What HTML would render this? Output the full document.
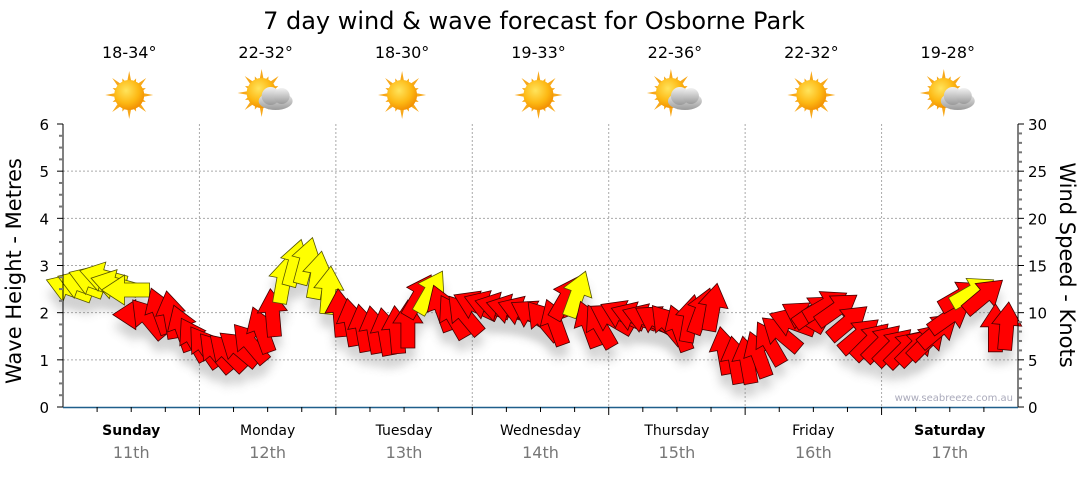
<!DOCTYPE html>
<html><head><meta charset="utf-8">
<style>
html,body{margin:0;padding:0;background:#fff;}
body{width:1080px;height:475px;overflow:hidden;font-family:"DejaVu Sans","Liberation Sans",sans-serif;}
</style></head>
<body>
<svg id="chart" width="1080" height="475" viewBox="0 0 1080 475" xmlns="http://www.w3.org/2000/svg" font-family="DejaVu Sans, Liberation Sans, sans-serif">
<defs>
<filter id="sh" x="-50%" y="-50%" width="200%" height="200%"><feGaussianBlur stdDeviation="5"/></filter>
<radialGradient id="sunG" cx="0.4" cy="0.35" r="0.7"><stop offset="0" stop-color="#ffe45c"/><stop offset="0.6" stop-color="#fdb813"/><stop offset="1" stop-color="#f08a00"/></radialGradient>
<linearGradient id="cloudG" x1="0" y1="0" x2="0" y2="1"><stop offset="0" stop-color="#f2f2f2"/><stop offset="1" stop-color="#9a9a9a"/></linearGradient>
</defs>
<text x="534" y="29" font-size="24" text-anchor="middle" fill="#000">7 day wind &amp; wave forecast for Osborne Park</text>
<g id="grid"></g>
<g id="shadows" opacity="0.3"></g>
<g id="arrows"></g>
<g id="axes"></g>
<g id="days"></g>
<text transform="translate(21,271) rotate(-90)" font-size="21" text-anchor="middle">Wave Height - Metres</text>
<text transform="translate(1060,265) rotate(90)" font-size="21" text-anchor="middle">Wind Speed - Knots</text>
<text x="1013" y="401" font-size="10" fill="#aab" text-anchor="end">www.seabreeze.com.au</text>
</svg>
<script>
const dayNames=["Sunday","Monday","Tuesday","Wednesday","Thursday","Friday","Saturday"];
const dayDates=["11th","12th","13th","14th","15th","16th","17th"];
const temps=["18-34°","22-32°","18-30°","19-33°","22-36°","22-32°","19-28°"];
const cloudy=[false,true,false,false,true,false,true];
const waveTicks=[0,1,2,3,4,5,6];
const windTicks=[0,5,10,15,20,25,30];
const windSpeed=[
12.6,13.0,13.4,13.8,13.0,12.4,9.8,9.4,10.2,9.8,8.4,7.2,
6.4,5.8,5.8,6.2,6.8,8.2,10.0,13.5,15.3,15.5,14.0,12.4,
10.0,9.0,8.4,8.2,8.0,8.2,8.8,11.8,12.2,10.5,9.6,9.8,
10.8,10.8,10.6,10.4,10.2,9.8,9.2,9.0,11.6,12.0,8.8,8.6,
9.4,9.8,9.6,9.4,9.2,8.8,8.4,9.4,10.2,10.6,6.0,5.0,
5.0,5.6,6.8,7.8,9.0,9.6,10.2,10.8,10.4,9.0,7.6,7.0,
6.8,6.4,6.2,6.4,7.0,8.2,9.6,11.8,12.2,11.8,8.4,8.6];
const windDir=[
-160,-160,-160,-165,-165,180,180,-130,-110,-100,-110,-120,
-125,-130,-135,-140,-130,-110,-95,-80,-75,-75,-80,-85,
-95,-100,-100,-100,-100,-95,-90,-60,-60,-110,-120,-130,
-155,-160,-165,-165,-160,-150,-130,-110,-60,-70,-110,-120,
-150,-155,-160,-160,-150,-130,-110,-80,-70,-80,-100,-100,
-100,-110,-120,-140,-160,-150,-35,-30,-35,-40,-40,-45,
-45,-45,-45,-45,-45,-40,-35,-30,-30,-40,-90,-85];

const X0=63,X1=1018,Y0=407,YT=124,NS="http://www.w3.org/2000/svg";
const dayW=(X1-X0)/7;
function xH(h){return X0+6+h*(X1-X0-6)/168;}
function yWave(m){return Y0-m*(Y0-YT)/6;}
function yWind(k){return Y0-k*(Y0-YT)/30;}
function mk(tag,attrs,parent){const e=document.createElementNS(NS,tag);for(const k in attrs)e.setAttribute(k,attrs[k]);parent.appendChild(e);return e;}
const grid=document.getElementById('grid'),axes=document.getElementById('axes'),days=document.getElementById('days'),arrows=document.getElementById('arrows'),shadows=document.getElementById('shadows');

waveTicks.forEach(m=>{if(m>0&&m<6){const l=mk('line',{x1:X0,x2:X1,y1:yWave(m),y2:yWave(m),stroke:'#aaa','stroke-dasharray':'2,2'},grid);

}});
for(let d=1;d<7;d++){const l=mk('line',{x1:X0+d*dayW,x2:X0+d*dayW,y1:YT,y2:Y0,stroke:'#aaa','stroke-dasharray':'2,2'},grid);

}

let la=mk('line',{x1:X0,x2:X0,y1:YT,y2:Y0,stroke:'#000'},axes);


let ra=mk('line',{x1:X1,x2:X1,y1:YT,y2:Y0,stroke:'#000'},axes);


let ba=mk('line',{x1:X0,x2:X1,y1:Y0+0.5,y2:Y0+0.5,stroke:'#1f5f8b','stroke-width':1.5},axes);


for(let i=0;i<=24;i++){const y=yWave(i/4);const len=i%4==0?6:4;mk('line',{x1:X0-len,x2:X0,y1:y,y2:y,stroke:i%4==0?'#000':'#777','stroke-width':i%4==0?1:2},axes);}
for(let i=0;i<=30;i++){const y=yWind(i);const len=i%5==0?6:4;mk('line',{x1:X1,x2:X1+len,y1:y,y2:y,stroke:i%5==0?'#000':'#777','stroke-width':i%5==0?1:2},axes);}
waveTicks.forEach(m=>{const t=mk('text',{x:X0-14,y:yWave(m)+6,'font-size':15,'text-anchor':'end',fill:'#000'},axes);t.textContent=m;

});
windTicks.forEach(k=>{const t=mk('text',{x:X1+10,y:yWind(k)+6,'font-size':15,fill:'#000'},axes);t.textContent=k;

});
for(let i=1;i<28;i++){const x=X0+i*dayW/4;mk('line',{x1:x,x2:x,y1:Y0,y2:Y0+(i%4==0?8:5),stroke:'#000'},axes);}

function sun(g,cx,cy){
  const pts=[];for(let i=0;i<32;i++){const a=i*Math.PI/16;const r=i%2==0?(i%4==0?24:18):12;pts.push((cx+r*Math.cos(a)).toFixed(1)+','+(cy+r*Math.sin(a)).toFixed(1));}
  mk('polygon',{points:pts.join(' '),fill:'#f7a81b'},g);
  mk('circle',{cx:cx,cy:cy,r:15,fill:'url(#sunG)'},g);
}
dayNames.forEach((n,i)=>{
  const cx=X0+dayW*(i+0.5);
  const g=mk('g',{},days);
  
  
  const t1=mk('text',{x:cx,y:435,'font-size':14,'text-anchor':'middle','font-weight':(i==0||i==6)?'bold':'normal',fill:'#000'},g);t1.textContent=n;
  const t2=mk('text',{x:cx,y:458,'font-size':16,'text-anchor':'middle',fill:'#777'},g);t2.textContent=dayDates[i];
  const t3=mk('text',{x:cx-2,y:58,'font-size':16,'text-anchor':'middle',fill:'#000'},g);t3.textContent=temps[i];
  const ig=mk('g',{},g);
  
  
  if(cloudy[i]){sun(ig,cx-6,93);
    mk('ellipse',{cx:cx+8,cy:101,rx:17,ry:9,fill:'url(#cloudG)'},ig);
    mk('circle',{cx:cx+3,cy:96,r:9,fill:'url(#cloudG)'},ig);
    mk('circle',{cx:cx+14,cy:96,r:8,fill:'url(#cloudG)'},ig);}
  else sun(ig,cx-2,95);
});

const AP="M-24,-7 L1,-7 L1,-15 L24,0 L1,15 L1,7 L-24,7 Z";
windSpeed.forEach((v,i)=>{
  const h=i*2;
  const x=xH(h),y=yWind(v);
  const s=mk('path',{d:AP,transform:`translate(${x.toFixed(1)},${(y+12).toFixed(1)}) rotate(${windDir[i]})`,fill:'#666',filter:'url(#sh)'},shadows);
  const a=mk('path',{d:AP,transform:`translate(${x.toFixed(1)},${y.toFixed(1)}) rotate(${windDir[i]})`,fill:v>=12?'#ffff00':'#ff0000',stroke:v>=12?'#555500':'#440000','stroke-width':0.8},arrows);
  
  
});
</script>
</body></html>
